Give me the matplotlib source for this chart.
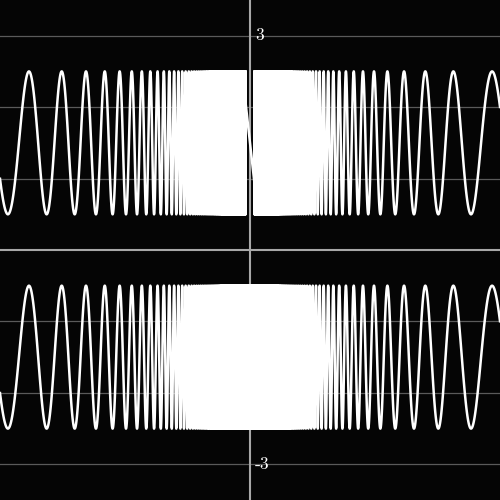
import numpy as np
import matplotlib
matplotlib.use("Agg")
import matplotlib.pyplot as plt

plt.rcParams["path.simplify"] = False
plt.rcParams["agg.path.chunksize"] = 20000

# view window
x_min, x_max = -3.5, 3.5
y_min, y_max = -3.5, 3.5
grid_levels = [-3, -2, -1, 1, 2, 3]
tick_values = [3, -3]
tick_labels = ["3", "-3"]

# curve parameters: y = offset + sin(freq / x)
freq = 111.8
offsets = [1.5, -1.5]
gap_guess = [0.065, 0.0]  # top curve skips a tiny band around x = 0
edge_phase = -0.63        # sin value at the gap edge is about -0.59
n_points = 200000

bg = "#050505"

fig = plt.figure(figsize=(5, 5), dpi=100, facecolor=bg)
ax = fig.add_axes([0, 0, 1, 1])
ax.set_facecolor(bg)
ax.set_xlim(x_min, x_max)
ax.set_ylim(y_min, y_max)
ax.axis("off")

# grid
for g in grid_levels:
    ax.axhline(g, color="#5a5a5a", lw=0.9, zorder=1)
ax.axhline(0, color="#a8a8a8", lw=1.5, zorder=1)
ax.axvline(0, color="#a8a8a8", lw=1.5, zorder=1)

# curves
for off, g in zip(offsets, gap_guess):
    if g > 0:
        k = np.round(freq / g / (2 * np.pi))
        g = freq / (2 * np.pi * k + edge_phase)
    else:
        g = 1e-6
    xr = np.linspace(g, x_max, n_points)
    x = np.concatenate([-xr[::-1], xr])
    y = off + np.sin(freq / x)
    ax.plot(x, y, color="white", lw=1.8, solid_joinstyle="round", zorder=2)

# axis labels
for v, lab in zip(tick_values, tick_labels):
    ax.annotate(lab, (0, v), xytext=(3.5, 0), textcoords="offset points",
                ha="left", va="center", color="white", fontsize=12.5,
                fontfamily="cmr10", zorder=3)

fig.savefig("out.png", dpi=100, facecolor=bg)
